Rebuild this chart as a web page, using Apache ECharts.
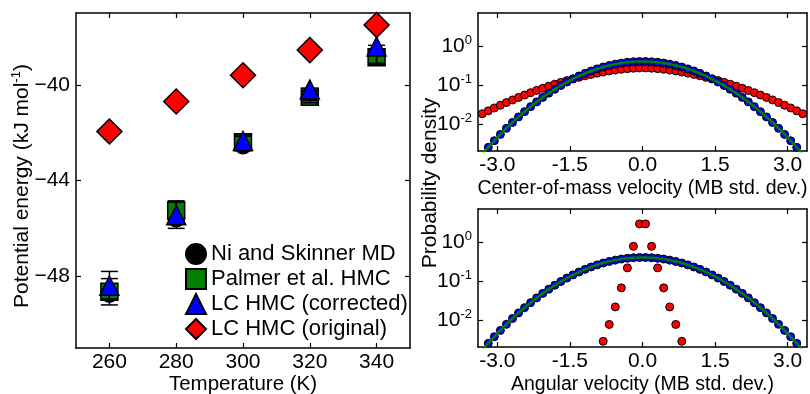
<!DOCTYPE html>
<html>
<head>
<meta charset="utf-8">
<script src="https://cdn.jsdelivr.net/npm/echarts@6/dist/echarts.min.js"></script>
<style>
  html, body { margin: 0; padding: 0; background: #fff; }
  #chart { width: 810px; height: 394px; }
</style>
</head>
<body>
<div id="chart"></div>
<script>
// left panel: potential energy vs temperature
const temps = [260, 280, 300, 320, 340];
const niSkinner = [-48.75, -45.6, -42.55, -40.45, -38.75];
const palmer = [-48.65, -45.25, -42.4, -40.5, -38.85];
const lcCorrected = [-48.4, -45.45, -42.35, -40.2, -38.4];
const lcOriginal = [-41.95, -40.7, -39.6, -38.55, -37.5];
const errCorrectedLow = [-48.95, -46.0, -42.7, -40.65, -39.1];
const errCorrectedHigh = [-47.8, -44.85, -42.1, -40.15, -38.35];
const errPalmerLow = [-49.2, -45.8, -42.7, -40.75, -39.15];
const errPalmerHigh = [-48.1, -44.9, -42.15, -40.25, -38.5];
const energyTicks = [-48, -44, -40];

// right panels: velocity histograms
const binsX = [-3.1875, -3.0625, -2.9375, -2.8125, -2.6875, -2.5625, -2.4375, -2.3125, -2.1875, -2.0625,
  -1.9375, -1.8125, -1.6875, -1.5625, -1.4375, -1.3125, -1.1875, -1.0625, -0.9375, -0.8125,
  -0.6875, -0.5625, -0.4375, -0.3125, -0.1875, -0.0625, 0.0625, 0.1875, 0.3125, 0.4375,
  0.5625, 0.6875, 0.8125, 0.9375, 1.0625, 1.1875, 1.3125, 1.4375, 1.5625, 1.6875,
  1.8125, 1.9375, 2.0625, 2.1875, 2.3125, 2.4375, 2.5625, 2.6875, 2.8125, 2.9375,
  3.0625, 3.1875];
const mbDots = [0.00248, 0.00367, 0.00534, 0.00764, 0.0108, 0.0150, 0.0205, 0.0275, 0.0365, 0.0476,
  0.0611, 0.0772, 0.0961, 0.1177, 0.1419, 0.1686, 0.1971, 0.2268, 0.2570, 0.2868,
  0.3149, 0.3405, 0.3625, 0.3799, 0.3920, 0.3982, 0.3982, 0.3920, 0.3799, 0.3625,
  0.3405, 0.3149, 0.2868, 0.2570, 0.2268, 0.1971, 0.1686, 0.1419, 0.1177, 0.0961,
  0.0772, 0.0611, 0.0476, 0.0365, 0.0275, 0.0205, 0.0150, 0.0108, 0.00764, 0.00534,
  0.00367, 0.00248];
const curveX = [-3.4375, -3.3125, -3.1875, -3.0625, -2.9375, -2.8125, -2.6875, -2.5625, -2.4375, -2.3125,
  -2.1875, -2.0625, -1.9375, -1.8125, -1.6875, -1.5625, -1.4375, -1.3125, -1.1875, -1.0625,
  -0.9375, -0.8125, -0.6875, -0.5625, -0.4375, -0.3125, -0.1875, -0.0625, 0.0625, 0.1875,
  0.3125, 0.4375, 0.5625, 0.6875, 0.8125, 0.9375, 1.0625, 1.1875, 1.3125, 1.4375,
  1.5625, 1.6875, 1.8125, 1.9375, 2.0625, 2.1875, 2.3125, 2.4375, 2.5625, 2.6875,
  2.8125, 2.9375, 3.0625, 3.1875, 3.3125, 3.4375];
const curveY = [0.00108, 0.00165, 0.00248, 0.00367, 0.00534, 0.00764, 0.0108, 0.0150, 0.0205, 0.0275,
  0.0365, 0.0476, 0.0611, 0.0772, 0.0961, 0.1177, 0.1419, 0.1686, 0.1971, 0.2268,
  0.2570, 0.2868, 0.3149, 0.3405, 0.3625, 0.3799, 0.3920, 0.3982, 0.3982, 0.3920,
  0.3799, 0.3625, 0.3405, 0.3149, 0.2868, 0.2570, 0.2268, 0.1971, 0.1686, 0.1419,
  0.1177, 0.0961, 0.0772, 0.0611, 0.0476, 0.0365, 0.0275, 0.0205, 0.0150, 0.0108,
  0.00764, 0.00534, 0.00367, 0.00248, 0.00165, 0.00108];
const comX = [-3.3125, -3.1875, -3.0625, -2.9375, -2.8125, -2.6875, -2.5625, -2.4375, -2.3125, -2.1875,
  -2.0625, -1.9375, -1.8125, -1.6875, -1.5625, -1.4375, -1.3125, -1.1875, -1.0625, -0.9375,
  -0.8125, -0.6875, -0.5625, -0.4375, -0.3125, -0.1875, -0.0625, 0.0625, 0.1875, 0.3125,
  0.4375, 0.5625, 0.6875, 0.8125, 0.9375, 1.0625, 1.1875, 1.3125, 1.4375, 1.5625,
  1.6875, 1.8125, 1.9375, 2.0625, 2.1875, 2.3125, 2.4375, 2.5625, 2.6875, 2.8125,
  2.9375, 3.0625, 3.1875, 3.3125];
const comOriginal = [0.0181, 0.0215, 0.0255, 0.0300, 0.0351, 0.0409, 0.0475, 0.0548, 0.0629, 0.0718,
  0.0816, 0.0923, 0.1037, 0.1159, 0.1288, 0.1424, 0.156, 0.1706, 0.185, 0.1995,
  0.213, 0.227, 0.239, 0.251, 0.260, 0.267, 0.272, 0.272, 0.267, 0.260,
  0.251, 0.239, 0.227, 0.213, 0.1995, 0.185, 0.1706, 0.156, 0.1424, 0.1288,
  0.1159, 0.1037, 0.0923, 0.0816, 0.0718, 0.0629, 0.0548, 0.0475, 0.0409, 0.0351,
  0.0300, 0.0255, 0.0215, 0.0181];
const angX = [-0.8125, -0.6875, -0.5625, -0.4375, -0.3125, -0.1875, -0.0625,
  0.0625, 0.1875, 0.3125, 0.4375, 0.5625, 0.6875, 0.8125];
const angOriginal = [0.0028, 0.0076, 0.0214, 0.066, 0.215, 0.77, 2.9,
  2.9, 0.77, 0.215, 0.066, 0.0214, 0.0076, 0.0028];
const velocityTicks = [-3, -1.5, 0, 1.5, 3];
const densityTicks = [0.01, 0.1, 1];

const FONT = 'Liberation Sans';
const zip = (xs, ys) => xs.map((x, i) => [x, ys[i]]);

const chart = echarts.init(document.getElementById('chart'));

const frameLine = { show: true, onZero: false, lineStyle: { color: '#000', width: 1.5 } };
const innerTick = (vals) => ({ show: true, inside: true, length: 5, customValues: vals, lineStyle: { color: '#000', width: 1.2 } });

function xPair(grid, min, max, ticks, fmt, name, gap, nameSize) {
  return [
    {
      type: 'value', gridIndex: grid, min: min, max: max, position: 'bottom',
      axisLine: frameLine, axisTick: innerTick(ticks), splitLine: { show: false },
      axisLabel: { customValues: ticks, formatter: fmt, margin: 4, color: '#000', fontFamily: FONT, fontSize: 21 },
      name: name, nameLocation: 'middle', nameGap: gap, nameMoveOverlap: false,
      nameTextStyle: { color: '#000', fontFamily: FONT, fontSize: nameSize }
    },
    {
      type: 'value', gridIndex: grid, min: min, max: max, position: 'top',
      axisLine: frameLine, axisTick: innerTick(ticks), splitLine: { show: false },
      axisLabel: { show: false }
    }
  ];
}

function yPair(grid, type, min, max, ticks, fmt) {
  return [
    {
      type: type, gridIndex: grid, min: min, max: max, position: 'left', logBase: 10,
      axisLine: frameLine, axisTick: innerTick(ticks), splitLine: { show: false }, minorTick: { show: false },
      axisLabel: {
        customValues: ticks, formatter: fmt, margin: 6, color: '#000', fontFamily: FONT, fontSize: 21,
        rich: {
          b: { fontFamily: FONT, fontSize: 21, color: '#000', lineHeight: 24 },
          s: { fontFamily: FONT, fontSize: 13, color: '#000', verticalAlign: 'top', lineHeight: 12 }
        }
      }
    },
    {
      type: type, gridIndex: grid, min: min, max: max, position: 'right', logBase: 10,
      axisLine: frameLine, axisTick: innerTick(ticks), splitLine: { show: false }, minorTick: { show: false },
      axisLabel: { show: false }
    }
  ];
}

const logFmt = (v) => '{b|10}{s|' + Math.round(Math.log10(v)) + '}';
const velFmt = (v) => v.toFixed(1);

function errorBars(lows, highs) {
  return {
    type: 'custom', xAxisIndex: 0, yAxisIndex: 0, z: 3, silent: true,
    data: temps.map((t, i) => [t, lows[i], highs[i]]),
    renderItem: (params, api) => {
      const x = api.value(0);
      const top = api.coord([x, api.value(2)]);
      const bot = api.coord([x, api.value(1)]);
      const w = 8.5;
      const st = { stroke: '#000', lineWidth: 1.5 };
      return {
        type: 'group', children: [
          { type: 'line', shape: { x1: top[0], y1: top[1], x2: bot[0], y2: bot[1] }, style: st },
          { type: 'line', shape: { x1: top[0] - w, y1: top[1], x2: top[0] + w, y2: top[1] }, style: st },
          { type: 'line', shape: { x1: bot[0] - w, y1: bot[1], x2: bot[0] + w, y2: bot[1] }, style: st }
        ]
      };
    }
  };
}

const edge = { borderColor: '#000', borderWidth: 1.5, opacity: 1 };
const dotEdge = { borderColor: '#000', borderWidth: 1, opacity: 1 };

chart.setOption({
  animation: false,
  backgroundColor: '#fff',
  textStyle: { fontFamily: FONT },
  grid: [
    { left: 76, right: 400, top: 13, bottom: 46, outerBoundsMode: 'none', containLabel: false },
    { left: 478, right: 3, top: 13, bottom: 243, outerBoundsMode: 'none', containLabel: false },
    { left: 478, right: 3, top: 209, bottom: 47, outerBoundsMode: 'none', containLabel: false }
  ],
  xAxis: [
    ...xPair(0, 250, 350, temps, (v) => String(v), 'Temperature (K)', 26, 20.5),
    ...xPair(1, -3.4, 3.4, velocityTicks, velFmt, 'Center-of-mass velocity (MB std. dev.)', 28, 19.5),
    ...xPair(2, -3.4, 3.4, velocityTicks, velFmt, 'Angular velocity (MB std. dev.)', 28, 19.5)
  ],
  yAxis: [
    ...yPair(0, 'value', -51, -37, energyTicks, (v) => '{b|\u2212' + Math.abs(v) + '}'),
    ...yPair(1, 'log', 0.002, 7, densityTicks, logFmt),
    ...yPair(2, 'log', 0.002, 7, densityTicks, logFmt)
  ],
  legend: {
    orient: 'vertical', left: 180, top: 238, itemWidth: 20, itemHeight: 20, itemGap: 3,
    textStyle: { color: '#000', fontFamily: FONT, fontSize: 22 },
    data: ['Ni and Skinner MD', 'Palmer et al. HMC', 'LC HMC (corrected)', 'LC HMC (original)']
  },
  graphic: [
    {
      type: 'text', x: 22, y: 186, rotation: Math.PI / 2,
      style: {
        text: '{a|Potential energy (kJ mol}{s|-1}{a|)}', align: 'center', verticalAlign: 'middle',
        rich: {
          a: { fontFamily: FONT, fontSize: 21, fill: '#000', lineHeight: 24 },
          s: { fontFamily: FONT, fontSize: 13, fill: '#000', verticalAlign: 'top', lineHeight: 12 }
        }
      }
    },
    {
      type: 'text', x: 430, y: 183, rotation: Math.PI / 2,
      style: { text: 'Probability density', align: 'center', verticalAlign: 'middle', font: '21px "Liberation Sans"', fill: '#000' }
    }
  ],
  series: [
    {
      name: 'Ni and Skinner MD', type: 'scatter', xAxisIndex: 0, yAxisIndex: 0, z: 2,
      symbol: 'circle', symbolSize: 16, itemStyle: { color: '#000', ...edge },
      data: zip(temps, niSkinner)
    },
    {
      name: 'Palmer et al. HMC', type: 'scatter', xAxisIndex: 0, yAxisIndex: 0, z: 2,
      symbol: 'rect', symbolSize: 17, itemStyle: { color: '#007f00', ...edge },
      data: zip(temps, palmer)
    },
    errorBars(errPalmerLow, errPalmerHigh),
    errorBars(errCorrectedLow, errCorrectedHigh),
    {
      name: 'LC HMC (corrected)', type: 'scatter', xAxisIndex: 0, yAxisIndex: 0, z: 4,
      symbol: 'triangle', symbolSize: 19, itemStyle: { color: '#0000ff', ...edge },
      data: zip(temps, lcCorrected)
    },
    {
      name: 'LC HMC (original)', type: 'scatter', xAxisIndex: 0, yAxisIndex: 0, z: 5,
      symbol: 'diamond', symbolSize: 25, itemStyle: { color: '#ff0000', ...edge },
      data: zip(temps, lcOriginal)
    },
    // center-of-mass velocity
    {
      type: 'scatter', xAxisIndex: 2, yAxisIndex: 2, z: 2, symbolSize: 8, clip: true,
      itemStyle: { color: '#ff0000', ...dotEdge },
      data: zip(comX, comOriginal)
    },
    {
      type: 'scatter', xAxisIndex: 2, yAxisIndex: 2, z: 3, symbolSize: 8, clip: true,
      itemStyle: { color: '#0000ff', ...dotEdge },
      data: zip(binsX, mbDots)
    },
    {
      type: 'line', xAxisIndex: 2, yAxisIndex: 2, z: 4, showSymbol: false, smooth: true, clip: true,
      lineStyle: { color: '#007f00', width: 2.5 },
      data: zip(curveX, curveY)
    },
    // angular velocity
    {
      type: 'scatter', xAxisIndex: 4, yAxisIndex: 4, z: 2, symbolSize: 8, clip: true,
      itemStyle: { color: '#0000ff', ...dotEdge },
      data: zip(binsX, mbDots)
    },
    {
      type: 'line', xAxisIndex: 4, yAxisIndex: 4, z: 3, showSymbol: false, smooth: true, clip: true,
      lineStyle: { color: '#007f00', width: 2.5 },
      data: zip(curveX, curveY)
    },
    {
      type: 'scatter', xAxisIndex: 4, yAxisIndex: 4, z: 4, symbolSize: 8, clip: true,
      itemStyle: { color: '#ff0000', ...dotEdge },
      data: zip(angX, angOriginal)
    }
  ]
});
</script>
</body>
</html>
